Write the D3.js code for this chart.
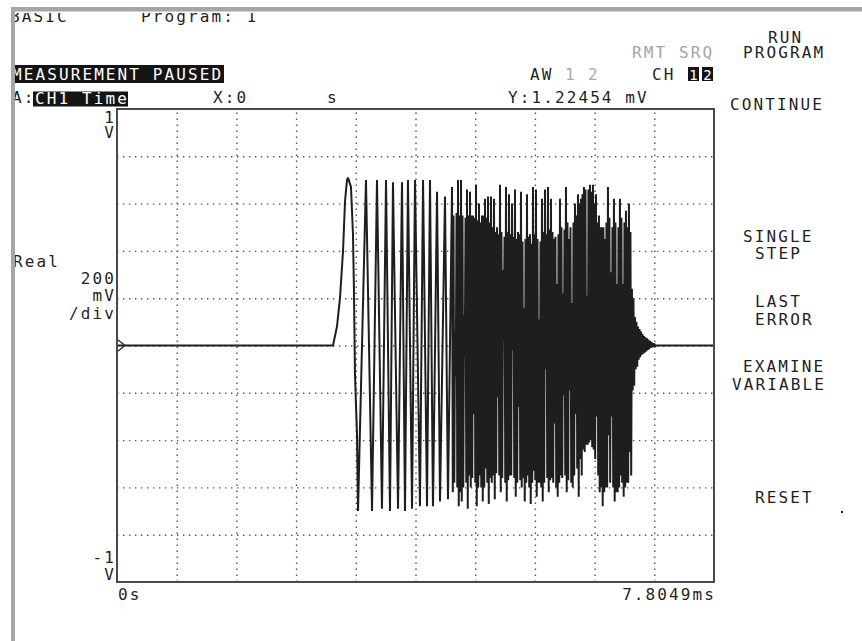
<!DOCTYPE html>
<html>
<head>
<meta charset="utf-8">
<script src="https://cdn.jsdelivr.net/npm/d3@7"></script>
<style>
  body { margin: 0; background: #fff; }
  svg { display: block; }
  text { font-family: 'DejaVu Sans Mono', monospace; font-size: 16px; letter-spacing: 2.1px; fill: #1f1f1f; }
</style>
</head>
<body>
<div id="screen"></div>
<script>
// ---- values ----
const spanMs = 7.8049;          // x axis: 0 .. 7.8049 ms
const voltRange = [-1, 1];      // y axis: -1 V .. 1 V, 200 mV/div
const xDivisions = 10;
const yDivisions = 10;

// leading flat part + first pulse (ms, V)
const pulseMs = [0, 2.824, 2.876, 2.915, 2.955, 2.981, 3.007, 3.020, 3.059, 3.085, 3.098, 3.111, 3.138];
const pulseV  = [0, 0, 0.08, 0.20, 0.40, 0.61, 0.70, 0.71, 0.67, 0.47, 0.23, -0.12, -0.38];

// the sparse cycles after the pulse (alternating troughs / peaks)
const sparseMs = [3.151, 3.255, 3.334, 3.399, 3.464, 3.517, 3.569, 3.608, 3.674, 3.726, 3.765, 3.804,
                  3.857, 3.896, 3.961, 4.001, 4.053, 4.092, 4.131, 4.184, 4.223, 4.288, 4.327];
const sparseV  = [-0.70, 0.70, -0.70, 0.70, -0.69, 0.70, -0.70, 0.69, -0.69, 0.69, -0.70, 0.70,
                  -0.69, 0.70, -0.68, 0.70, -0.68, 0.70, -0.68, 0.65, -0.66, 0.63, -0.65];

// dense burst, constant cycle length: in every cycle one "spike" swing
// (the needles sticking out of the black mass) and one "base" swing (edge of the black mass)
const denseStartMs = 4.380;
const denseCycleMs = 0.0392;
const spikePeakV = [
  0.67, 0.06, 0.70, 0.70, 0.13, 0.66, 0.65, 0.55, 0.68, 0.60,
  0.55, 0.62, 0.63, 0.63, 0.62, 0.50, 0.68, 0.32, 0.67, 0.64,
  0.60, 0.66, 0.48, 0.65, 0.16, 0.64, 0.47, 0.67, 0.66, 0.11,
  0.62, 0.66, 0.67, 0.62, 0.45, 0.26, 0.62, 0.22, 0.67, 0.45,
  0.18, 0.60, 0.64, 0.62, 0.67, 0.21, 0.68, 0.68, 0.64, 0.55,
  0.50, 0.45, 0.67, 0.31, 0.62, 0.26, 0.62, 0.26, 0.57, 0.60,
  0.24, 0.12, 0.08, 0.06, 0.04, 0.03, 0.02, 0.01];
const spikeTroughV = [
  -0.62, -0.13, -0.68, -0.66, -0.05, -0.69, -0.60, -0.29, -0.68, -0.55,
  -0.66, -0.52, -0.67, -0.58, -0.65, -0.22, -0.62, 0.02, -0.66, -0.55,
  -0.02, -0.64, -0.26, -0.60, -0.66, -0.55, -0.67, -0.53, -0.64, -0.58,
  -0.66, -0.10, -0.62, -0.56, -0.33, -0.64, -0.55, -0.21, -0.62, -0.19,
  -0.60, -0.29, -0.64, -0.55, -0.45, -0.42, -0.40, -0.44, -0.30, -0.62,
  -0.68, -0.60, -0.38, -0.30, -0.66, -0.62, -0.55, -0.64, -0.58, -0.45,
  -0.19, -0.10, -0.06, -0.04, -0.03, -0.02, -0.01, -0.005];
const basePeakV = [
  0.55, 0.56, 0.55, 0.55, 0.54, 0.55, 0.55, 0.54, 0.53, 0.52,
  0.55, 0.54, 0.52, 0.50, 0.48, 0.47, 0.48, 0.46, 0.48, 0.47,
  0.46, 0.45, 0.47, 0.44, 0.45, 0.46, 0.43, 0.47, 0.45, 0.44,
  0.48, 0.47, 0.49, 0.48, 0.46, 0.47, 0.50, 0.49, 0.52, 0.50,
  0.52, 0.55, 0.60, 0.64, 0.66, 0.66, 0.65, 0.60, 0.52, 0.50,
  0.50, 0.52, 0.54, 0.50, 0.52, 0.50, 0.54, 0.52, 0.50, 0.48,
  0.20, 0.10, 0.07, 0.05, 0.035, 0.025, 0.015, 0.008];
const baseTroughV = [
  -0.58, -0.60, -0.62, -0.60, -0.58, -0.55, -0.56, -0.58, -0.60, -0.60,
  -0.60, -0.58, -0.56, -0.55, -0.54, -0.55, -0.56, -0.58, -0.57, -0.55,
  -0.56, -0.58, -0.57, -0.56, -0.58, -0.60, -0.58, -0.57, -0.58, -0.60,
  -0.58, -0.56, -0.57, -0.58, -0.60, -0.58, -0.56, -0.55, -0.57, -0.58,
  -0.55, -0.52, -0.48, -0.44, -0.42, -0.41, -0.43, -0.48, -0.55, -0.60,
  -0.62, -0.60, -0.58, -0.60, -0.62, -0.60, -0.58, -0.60, -0.58, -0.55,
  -0.17, -0.09, -0.05, -0.035, -0.025, -0.015, -0.008, -0.004];

// screen texts
const headerTexts = ["BASIC", "Program: 1"];
const statusText = "MEASUREMENT PAUSED";
const traceName = "CH1 Time";
const markerTexts = ["X:0", "s", "Y:1.22454 mV"];
const yTopLabel = ["1", "V"];
const yBottomLabel = ["-1", "V"];
const scaleLabel = ["200", "mV", "/div"];
const xLabels = ["0s", "7.8049ms"];
const softkeys = ["RUN", "PROGRAM", "CONTINUE", "SINGLE", "STEP", "LAST", "ERROR", "EXAMINE", "VARIABLE", "RESET"];

// ---- drawing ----
const W = 862, H = 641;
const plot = { left: 117, right: 714, top: 109, bottom: 582 };

const svg = d3.select("#screen").append("svg").attr("width", W).attr("height", H);

const x = d3.scaleLinear().domain([0, spanMs]).range([plot.left, plot.right]);
const y = d3.scaleLinear().domain(voltRange).range([plot.bottom, plot.top]);

// dotted graticule
const xGrid = d3.range(1, xDivisions).map(i => spanMs * i / xDivisions);
const yGrid = d3.range(1, yDivisions).map(i => voltRange[0] + (voltRange[1] - voltRange[0]) * i / yDivisions);

const gx = svg.append("g").attr("transform", `translate(0,${plot.bottom})`)
  .call(d3.axisBottom(x).tickValues(xGrid).tickSize(-(plot.bottom - plot.top)).tickFormat(""));
const gy = svg.append("g").attr("transform", `translate(${plot.left},0)`)
  .call(d3.axisLeft(y).tickValues(yGrid).tickSize(-(plot.right - plot.left)).tickFormat(""));
[gx, gy].forEach(g => {
  g.select(".domain").remove();
  g.selectAll(".tick line").attr("stroke", "#555").attr("stroke-width", 1.4).attr("stroke-dasharray", "1.4,4.6");
});

// build trace
const trace = [];
pulseMs.forEach((t, i) => trace.push([t, pulseV[i]]));
sparseMs.forEach((t, i) => trace.push([t, sparseV[i]]));
spikePeakV.forEach((v, i) => {
  const t0 = denseStartMs + i * denseCycleMs;
  trace.push([t0, v]);
  trace.push([t0 + 0.25 * denseCycleMs, spikeTroughV[i]]);
  trace.push([t0 + 0.5 * denseCycleMs, basePeakV[i]]);
  trace.push([t0 + 0.75 * denseCycleMs, baseTroughV[i]]);
});
trace.push([denseStartMs + spikePeakV.length * denseCycleMs, 0]);
trace.push([spanMs, 0]);

svg.append("path")
  .datum(trace)
  .attr("fill", "none")
  .attr("stroke", "#1e1e1e")
  .attr("stroke-width", 2)
  .attr("stroke-linejoin", "bevel")
  .attr("d", d3.line().x(d => x(d[0])).y(d => y(d[1])));

// frame
svg.append("rect")
  .attr("x", plot.left).attr("y", plot.top)
  .attr("width", plot.right - plot.left).attr("height", plot.bottom - plot.top)
  .attr("fill", "none").attr("stroke", "#4a4a4a").attr("stroke-width", 2);

// zero reference marker
svg.append("path")
  .attr("d", `M${plot.left + 1},${y(0) - 5.5} L${plot.left + 8},${y(0)} L${plot.left + 1},${y(0) + 5.5}`)
  .attr("fill", "none").attr("stroke", "#333").attr("stroke-width", 1.5);

function txt(s, px, py, anchor, parent) {
  return (parent || svg).append("text").attr("x", px).attr("y", py)
    .attr("text-anchor", anchor || "start").text(s);
}

// header: the top of this line is cut off on the photographed screen
svg.append("clipPath").attr("id", "headerClip")
  .append("rect").attr("x", 0).attr("y", 13).attr("width", W).attr("height", 20);
const header = svg.append("g").attr("clip-path", "url(#headerClip)");
txt(headerTexts[0], 10, 21.5, "start", header);
txt(headerTexts[1], 141, 21.5, "start", header);

// status line (inverse)
svg.append("rect").attr("x", 11).attr("y", 65).attr("width", 213).attr("height", 18).attr("fill", "#141414");
txt(statusText, 12, 80).style("fill", "#fff");

// AW / CH annunciators
txt("AW", 530, 80);
txt("1", 565, 80).style("fill", "#aaa");
txt("2", 588, 80).style("fill", "#aaa");
txt("CH", 652, 80);
[688, 702].forEach((bx, i) => {
  svg.append("rect").attr("x", bx).attr("y", 67).attr("width", 11).attr("height", 14).attr("fill", "#141414");
  txt(String(i + 1), bx + 5.5, 79.5, "middle").style("fill", "#fff").style("letter-spacing", "0px").style("font-size", "14px");
});
txt("RMT SRQ", 632, 58).style("fill", "#a5a5a5");

// trace line
txt("A:", 12, 103);
svg.append("rect").attr("x", 33).attr("y", 91.5).attr("width", 95).attr("height", 15).attr("fill", "#141414");
txt(traceName, 35, 104).style("fill", "#fff");
txt(markerTexts[0], 213, 103);
txt(markerTexts[1], 327, 103);
txt(markerTexts[2], 508, 103);

// axis labels
const rx = plot.left - 1;
txt(yTopLabel[0], rx, 123, "end");
txt(yTopLabel[1], rx, 138, "end");
txt("Real", 13, 267);
txt(scaleLabel[0], rx, 284, "end");
txt(scaleLabel[1], rx, 301, "end");
txt(scaleLabel[2], rx, 319, "end");
txt(yBottomLabel[0], rx, 563, "end");
txt(yBottomLabel[1], rx, 580, "end");
txt(xLabels[0], 118, 600);
txt(xLabels[1], plot.right + 2, 600, "end");

// softkey menu
const softkeyPos = [[768, 43], [743, 58], [730, 110], [743, 242], [755, 259],
                    [755, 307], [755, 325], [743, 372], [732, 390], [755, 503]];
softkeys.forEach((s, i) => txt(s, softkeyPos[i][0], softkeyPos[i][1]));

// stray dot
svg.append("rect").attr("x", 841).attr("y", 511).attr("width", 2).attr("height", 2).attr("fill", "#222");

// grey bezel edges
svg.append("rect").attr("x", 11).attr("y", 7).attr("width", W - 11).attr("height", 4.5).attr("fill", "#a6a6a6");
svg.append("rect").attr("x", 11).attr("y", 7).attr("width", 4).attr("height", H - 7).attr("fill", "#a6a6a6");
</script>
</body>
</html>
